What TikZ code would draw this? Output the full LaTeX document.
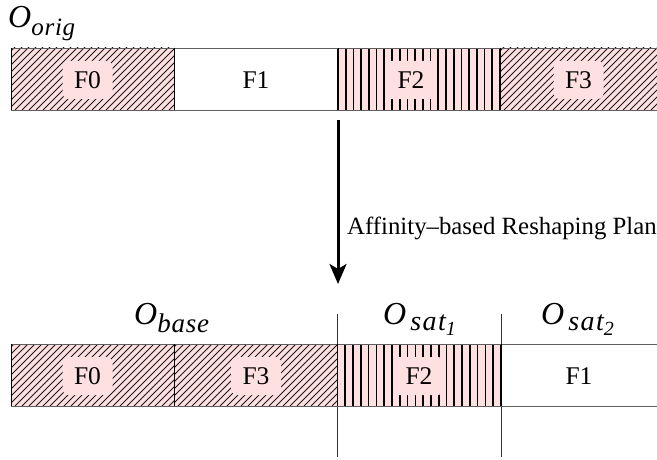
\documentclass[tikz,border=0pt]{standalone}
\usepackage{fontspec}
\setmainfont{Liberation Serif}
\usetikzlibrary{arrows.meta}

\definecolor{blush}{RGB}{255,224,224}
\definecolor{rim}{RGB}{95,95,95}

% object names: large italic O with a spaced italic subscript
\newcommand{\bigO}{{\fontsize{32}{32}\selectfont\itshape O}}
\newcommand{\subtxt}[4]{\raisebox{#1}{\fontsize{#2}{#2}\selectfont\itshape\addfontfeature{LetterSpace=#3}#4}}
\newcommand{\subsub}[1]{\raisebox{-11pt}{\fontsize{20}{20}\selectfont\itshape #1}}

% diagonal hatch on pink: x0, y0 (top), x1, y1 (bottom)
\newcommand{\diagfield}[4]{%
  \begin{scope}
    \clip (#1,#2) rectangle (#3,#4);
    \fill[blush] (#1,#2) rectangle (#3,#4);
    \foreach \k in {0,...,34} {\draw[hatchline] ({#1-66+\k*7},#4) -- ++(66,-66);}
  \end{scope}}
% vertical bars on pink
\newcommand{\barfield}[4]{%
  \begin{scope}
    \clip (#1-2,#2) rectangle (#3+2,#4);
    \fill[blush] (#1,#2) rectangle (#3,#4);
    \foreach \k in {0,...,21} {\draw[barline] ({#1+\k*(#3-#1)/21},#2) -- ({#1+\k*(#3-#1)/21},#4);}
  \end{scope}}

\tikzset{
  hatchline/.style={line width=0.85pt, black!90},
  barline/.style={line width=1.7pt, black},
  tag/.style={fill=blush, rounded corners=6pt, minimum width=50pt, minimum height=38pt,
    inner sep=0pt, font=\fontsize{25.5}{30}\selectfont},
  plaintag/.style={inner sep=0pt, font=\fontsize{25.5}{30}\selectfont},
  divider/.style={line width=0.8pt, black},
  rimline/.style={line width=0.9pt, rim},
  guide/.style={line width=0.8pt, black!80},
  title/.style={inner sep=0pt, anchor=base west},
  flow/.style={line width=3pt, -{Stealth[length=20pt, width=17pt, inset=5pt]}},
}

\begin{document}
\begin{tikzpicture}[x=1pt, y=-1pt]
  \useasboundingbox (0,0) rectangle (657,460);

  % ---- original object ----
  \node[title] (origname) at (8,28) {\bigO\subtxt{-8pt}{25}{3}{orig}};

  \diagfield{11}{48}{174}{110}
  \barfield{338}{48}{500}{110}
  \diagfield{500}{48}{660}{110}
  \draw[rimline] (11,48) -- (660,48) (11,110) -- (660,110);
  \draw[divider] (11,48) -- (11,110) (174,48) -- (174,110) (338,48) -- (338,110) (500,48) -- (500,110);

  \node[tag] (t0) at (87.5,80) {F0};
  \node[plaintag] (t1) at (256,80) {F1};
  \node[tag] (t2) at (411,80) {F2};
  \node[tag] (t3) at (578.5,80) {F3};

  % ---- reshaping step ----
  \coordinate (flowtop) at (338,120);
  \coordinate (flowtip) at (338,284);
  \draw[flow] (flowtop) -- (flowtip);
  \node[title, font=\fontsize{24.8}{30}\selectfont] (plan) at (347,234) {Affinity--based Reshaping Plan};

  % ---- reshaped objects ----
  \node[title] (basename) at (134,324) {\bigO\subtxt{-8pt}{27}{3}{base}};
  \node[title] (sat1name) at (383,324) {\bigO\hspace{4pt}\subtxt{-6pt}{28}{5}{sat}\subsub{1}};
  \node[title] (sat2name) at (541,324) {\bigO\hspace{4pt}\subtxt{-6pt}{28}{5}{sat}\subsub{2}};

  \coordinate (cutA top) at (337.5,314);
  \coordinate (cutA bot) at (337.5,457);
  \coordinate (cutB top) at (501,314);
  \coordinate (cutB bot) at (501,457);
  \draw[guide] (cutA top) -- (cutA bot);
  \draw[guide] (cutB top) -- (cutB bot);

  \diagfield{11}{344}{174}{406}
  \diagfield{174}{344}{337.5}{406}
  \barfield{337.5}{344}{501}{406}
  \draw[rimline] (11,344) -- (660,344) (11,406) -- (660,406);
  \draw[divider] (11,344) -- (11,406) (174,344) -- (174,406) (337.5,344) -- (337.5,406) (501,344) -- (501,406);

  \node[tag] (b0) at (87.5,376) {F0};
  \node[tag] (b3) at (256,376) {F3};
  \node[tag] (b2) at (419,376) {F2};
  \node[plaintag] (b1) at (579,376) {F1};
\end{tikzpicture}
\end{document}
